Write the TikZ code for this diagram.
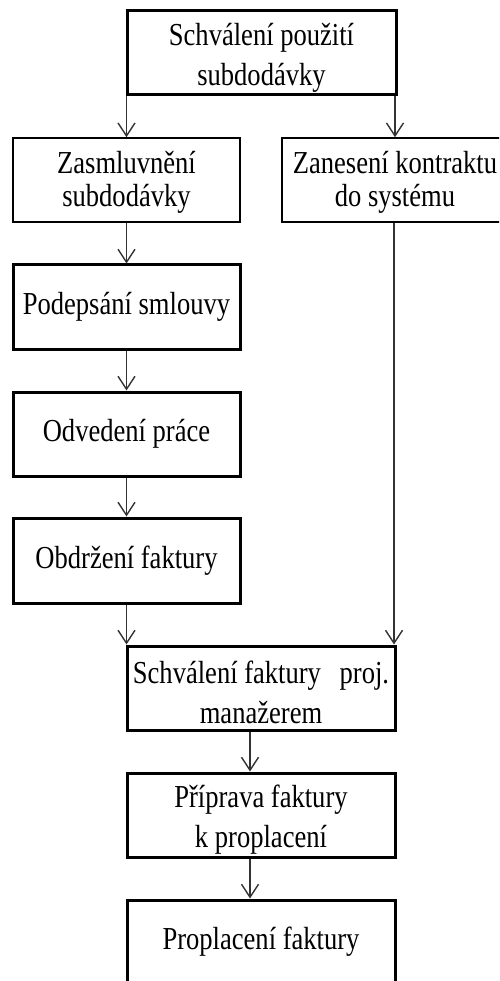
\documentclass[tikz,border=0pt]{standalone}
\usepackage{fontspec}
\setmainfont{Liberation Serif}[FakeStretch=0.83]
\usetikzlibrary{arrows.meta}
\tikzset{
  boxthick/.style={draw=black, line width=3pt, rectangle, inner sep=1pt, align=center,
    font=\fontsize{32pt}{40pt}\selectfont},
  boxthin/.style={boxthick, line width=1.6pt},
  flow/.style={draw=black!80, line width=1.4pt, -{Straight Barb[length=13pt,width=17pt]}},
}
\begin{document}
\begin{tikzpicture}[x=1pt,y=-1pt]
\useasboundingbox (0,0) rectangle (499,981);
\clip (0,0) rectangle (499,981);
\node[boxthick, minimum width=269pt, minimum height=84pt] (b1) at (261.5,53) {\rule{0pt}{31pt}Schválení použití\\subdodávky};
\node[boxthin, minimum width=227pt, minimum height=84pt, font=\fontsize{32pt}{33pt}\selectfont] (b2l) at (126.5,180) {\rule{0pt}{27pt}Zasmluvnění\\subdodávky};
\node[boxthin, minimum width=226pt, minimum height=84pt, font=\fontsize{32pt}{33pt}\selectfont] (b2r) at (395,180) {\rule{0pt}{27pt}Zanesení kontraktu\\do systému};
\node[boxthick, minimum width=227pt, minimum height=84pt] (b3) at (126.5,307) {Podepsání smlouvy};
\node[boxthick, minimum width=227pt, minimum height=84pt] (b4) at (126.5,434) {Odvedení práce};
\node[boxthick, minimum width=227pt, minimum height=85pt] (b5) at (126.5,560.5) {Obdržení faktury};
\node[boxthick, minimum width=268pt, minimum height=84pt] (b6) at (261,688) {\rule{0pt}{31pt}Schválení faktury\hspace{12pt} proj.\\manažerem};
\node[boxthick, minimum width=268pt, minimum height=84pt] (b7) at (261,815) {\rule{0pt}{31pt}Příprava faktury\\k proplacení};
\node[boxthick, minimum width=268pt, minimum height=84pt] (b8) at (261,942) {Proplacení faktury};
\draw[flow] (b2l.north |- b1.south) -- (b2l.north);
\draw[flow] (b2r.north |- b1.south) -- (b2r.north);
\draw[flow] (b2l.south) -- (b3.north);
\draw[flow] (b3.south) -- (b4.north);
\draw[flow] (b4.south) -- (b5.north);
\draw[flow] (b5.south) -- (b5.south |- b6.north);
\draw[flow] ([xshift=-1pt]b2r.south) -- ([xshift=-1pt]b2r.south |- b6.north);
\draw[flow] ([xshift=-11pt]b6.south) -- ([xshift=-11pt]b7.north);
\draw[flow] ([xshift=-11pt]b7.south) -- ([xshift=-11pt]b8.north);
\end{tikzpicture}
\end{document}
